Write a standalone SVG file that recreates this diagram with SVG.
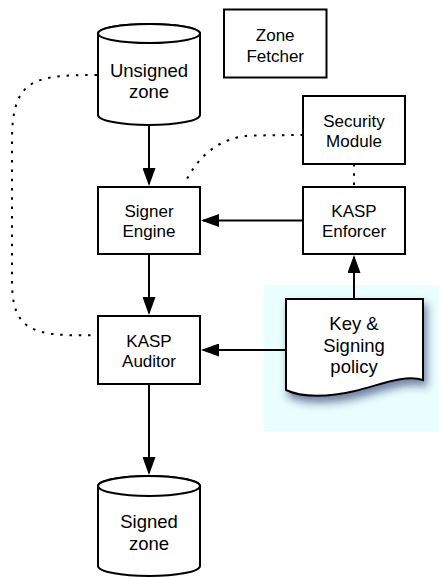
<svg xmlns="http://www.w3.org/2000/svg" width="439" height="577" viewBox="0 0 439 577">
  <style>
    .shape { fill: #ffffff; stroke: #000000; stroke-width: 2; }
    .edge { fill: none; stroke: #000000; stroke-width: 2; }
    .dotted { fill: none; stroke: #000000; stroke-width: 2; stroke-dasharray: 2.5 6.8; }
    .lbl { font-family: "Liberation Sans", Arial, Helvetica, sans-serif; font-size: 17px; fill: #000000; text-anchor: middle; }
    .lbl-lg { font-family: "Liberation Sans", Arial, Helvetica, sans-serif; font-size: 18.5px; fill: #000000; text-anchor: middle; }
  </style>
  <defs>
    <marker id="arrow" markerUnits="userSpaceOnUse" markerWidth="18" markerHeight="13" refX="16" refY="6.5" orient="auto">
      <path d="M0,0 L18,6.5 L0,13 Z" fill="#000000"/>
    </marker>
    <filter id="docShadow" x="-20%" y="-20%" width="150%" height="160%">
      <feDropShadow dx="3" dy="6" stdDeviation="4" flood-color="#1c2d66" flood-opacity="0.6"/>
    </filter>
  </defs>

  <rect width="439" height="577" fill="#ffffff"/>

  <!-- highlighted policy area -->
  <rect x="264" y="285" width="175" height="146" fill="#e9fefe"/>

  <!-- connectors -->
  <g id="connectors">
    <path class="dotted" d="M97,75 C35,75 12,78 12,140 L12,280 C12,330 30,337 97,335"/>
    <path class="dotted" d="M303,135 L252,135.5 C218,137 197,158 185,183"/>
    <line class="dotted" x1="354" y1="164" x2="354" y2="187"/>
    <line class="edge" x1="149" y1="126" x2="149" y2="184" marker-end="url(#arrow)"/>
    <line class="edge" x1="303" y1="220.5" x2="203" y2="220.5" marker-end="url(#arrow)"/>
    <line class="edge" x1="149" y1="254" x2="149" y2="313" marker-end="url(#arrow)"/>
    <line class="edge" x1="354" y1="299" x2="354" y2="257" marker-end="url(#arrow)"/>
    <line class="edge" x1="286" y1="350" x2="203" y2="350" marker-end="url(#arrow)"/>
    <line class="edge" x1="149" y1="384" x2="149" y2="473" marker-end="url(#arrow)"/>
  </g>

  <!-- nodes -->
  <g id="unsigned-zone">
    <path class="shape" d="M98,33.5 L98,115 A51,10 0 0 0 200,115 L200,33.5 A51,9.5 0 0 0 98,33.5 Z"/>
    <ellipse class="shape" cx="149" cy="33.5" rx="51" ry="9.5"/>
    <text class="lbl-lg" x="149" y="76.7">Unsigned</text>
    <text class="lbl-lg" x="149" y="98.3">zone</text>
  </g>

  <g id="zone-fetcher">
    <rect class="shape" x="224" y="9.5" width="102.5" height="68"/>
    <text class="lbl" x="275.2" y="40.7">Zone</text>
    <text class="lbl" x="275.2" y="61.7">Fetcher</text>
  </g>

  <g id="security-module">
    <rect class="shape" x="303" y="96" width="102" height="68"/>
    <text class="lbl" x="354" y="126.7">Security</text>
    <text class="lbl" x="354" y="147.3">Module</text>
  </g>

  <g id="signer-engine">
    <rect class="shape" x="98" y="187" width="102" height="67"/>
    <text class="lbl" x="149" y="217.3">Signer</text>
    <text class="lbl" x="149" y="237.3">Engine</text>
  </g>

  <g id="kasp-enforcer">
    <rect class="shape" x="303" y="187" width="102" height="67"/>
    <text class="lbl" x="354" y="217.3">KASP</text>
    <text class="lbl" x="354" y="237.3">Enforcer</text>
  </g>

  <g id="kasp-auditor">
    <rect class="shape" x="98" y="316" width="102" height="68"/>
    <text class="lbl" x="149" y="346.7">KASP</text>
    <text class="lbl" x="149" y="366.7">Auditor</text>
  </g>

  <g id="key-signing-policy">
    <path class="shape" filter="url(#docShadow)" d="M286,299 L423,299 L423,380 C405,374 380,385 355,391 C330,397 302,398 286,390 Z"/>
    <text class="lbl-lg" x="354" y="330">Key &amp;</text>
    <text class="lbl-lg" x="354" y="351.7">Signing</text>
    <text class="lbl-lg" x="354" y="373.3">policy</text>
  </g>

  <g id="signed-zone">
    <path class="shape" d="M98,486 L98,566 A51,10 0 0 0 200,566 L200,486 A51,10 0 0 0 98,486 Z"/>
    <ellipse class="shape" cx="149" cy="486" rx="51" ry="10"/>
    <text class="lbl-lg" x="149" y="528.3">Signed</text>
    <text class="lbl-lg" x="149" y="550">zone</text>
  </g>
</svg>
